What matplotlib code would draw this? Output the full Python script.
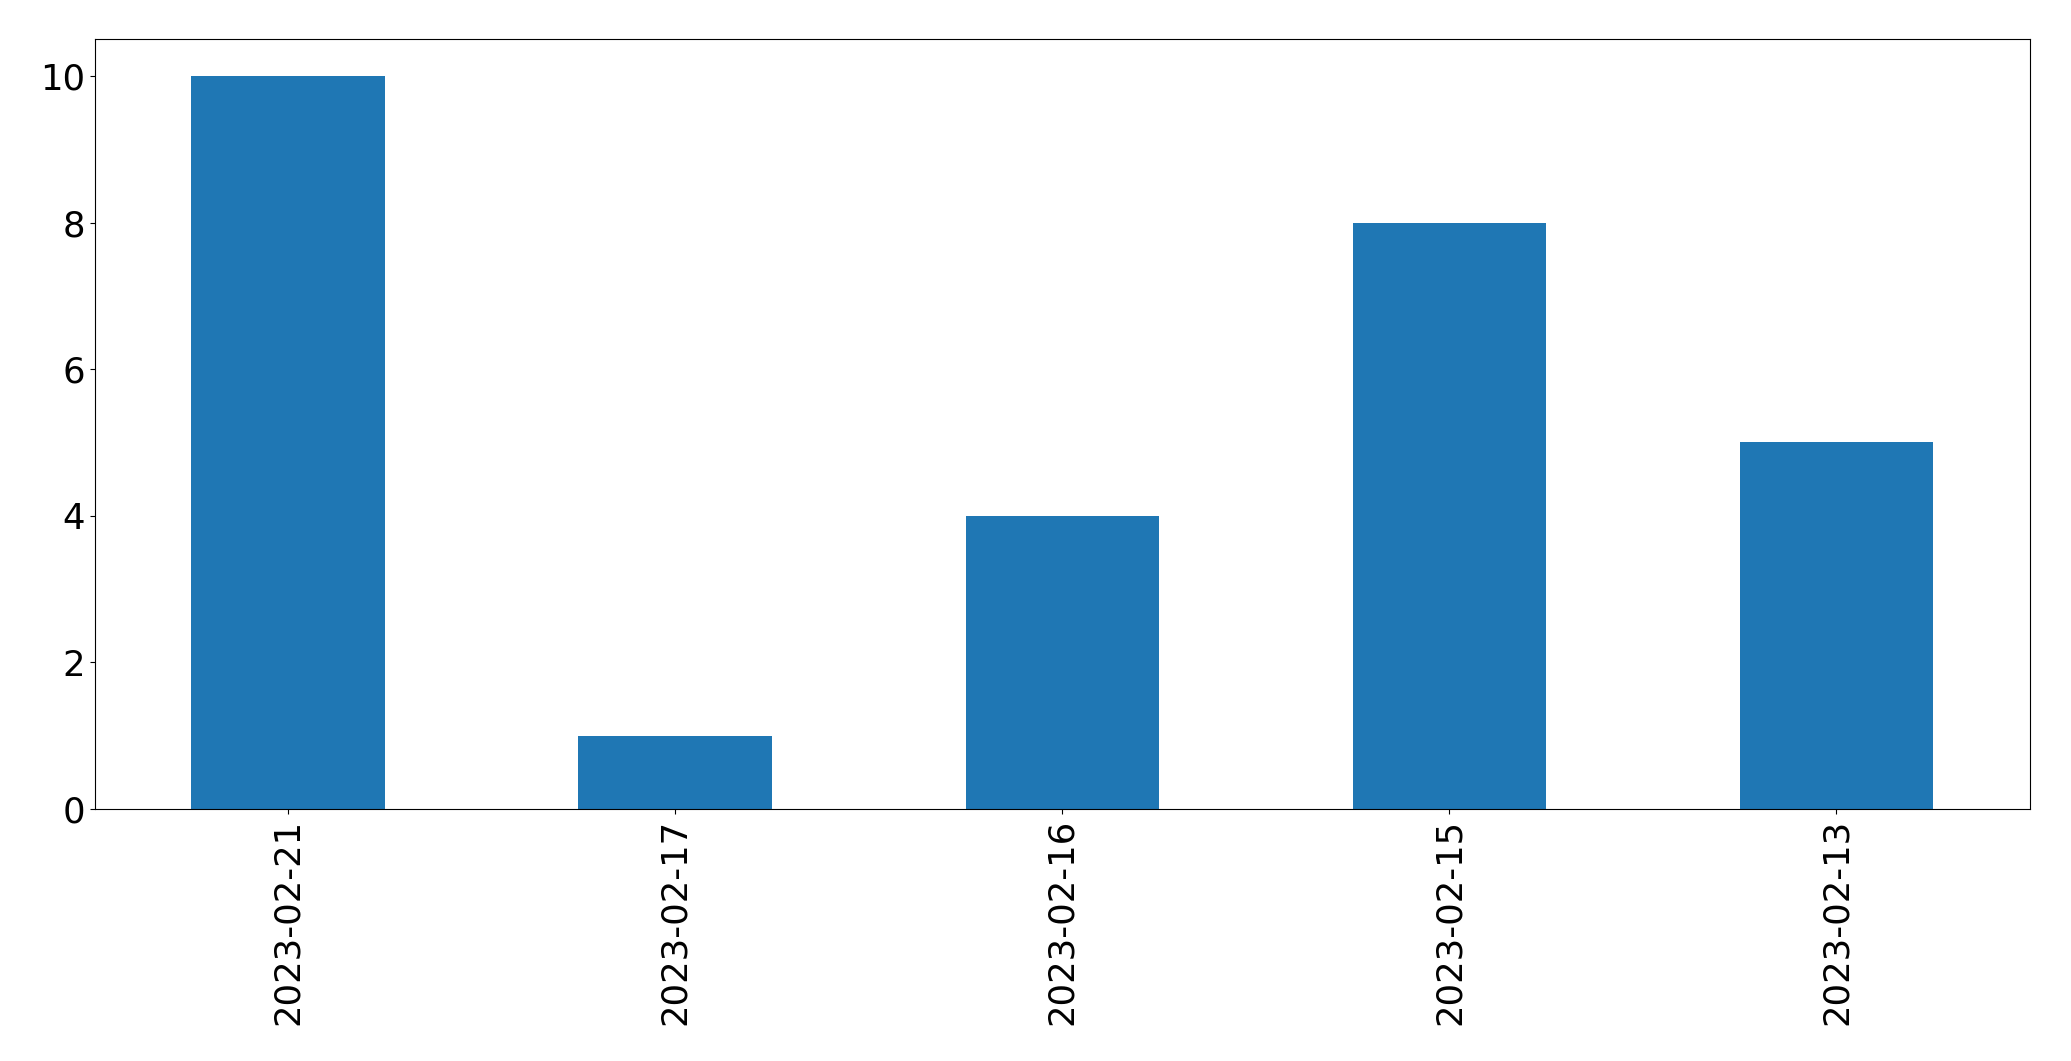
import matplotlib
matplotlib.use("Agg")
import matplotlib.pyplot as plt

dates = ["2023-02-21", "2023-02-17", "2023-02-16", "2023-02-15", "2023-02-13"]
counts = [10, 1, 4, 8, 5]

fig, ax = plt.subplots(figsize=(20.71, 10.61), dpi=100)
fig.subplots_adjust(left=0.0457, right=0.9802, top=0.963, bottom=0.2375)

x = range(len(dates))
ax.bar(x, counts, width=0.5, color="#1f77b4")
ax.set_xlim(-0.5, len(dates) - 0.5)
ax.set_xticks(list(x))
ax.set_xticklabels(dates, rotation=90)
ax.tick_params(labelsize=25.6)

fig.savefig("out.png", dpi=100)
